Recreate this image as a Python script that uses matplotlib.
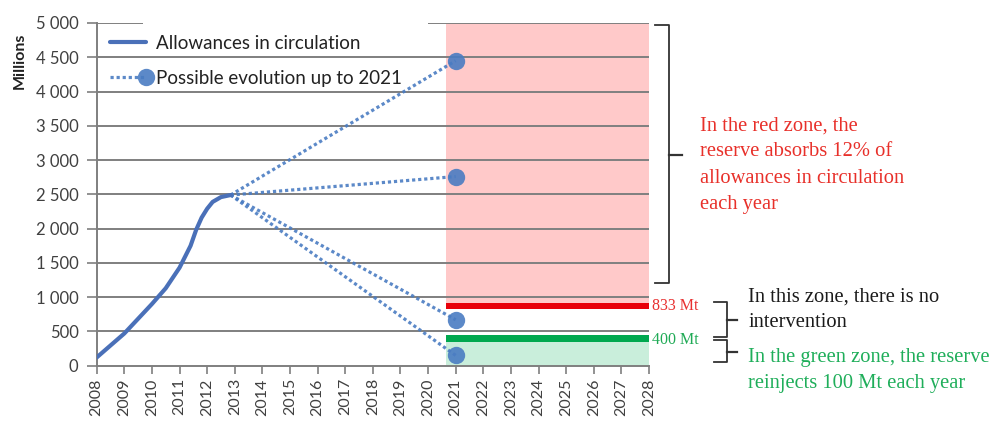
import matplotlib
matplotlib.use('Agg')
import matplotlib.pyplot as plt
from matplotlib.patches import Rectangle
from matplotlib.lines import Line2D
from matplotlib.legend_handler import HandlerLine2D

plt.rcParams['font.family'] = ['Lato', 'DejaVu Sans']

# allowances in circulation (Mt)
curve_years = [2008, 2009, 2010, 2010.5, 2011, 2011.4, 2011.6, 2011.8, 2012, 2012.2, 2012.5, 2012.85]
curve_values = [120, 470, 900, 1130, 1430, 1750, 1980, 2160, 2290, 2390, 2460, 2490]

# possible paths up to 2021
branch_start = (2012.85, 2490)
branch_year = 2021
branch_ends = [4450, 2760, 670, 150]

# reserve thresholds
upper_level = 833
lower_level = 400
zone_start = 2020.65
zone_end = 2028

years = list(range(2008, 2029))
y_ticks = list(range(0, 5001, 500))
y_labels = ['{:,}'.format(v).replace(',', ' ') for v in y_ticks]

blue = '#4a70b8'
dot_blue = '#4a7cc2'
red_fill = '#ffc9c9'
green_fill = '#c9eedb'
red_bar = '#e8000a'
green_bar = '#00a84f'
grid_col = '#7f7f7f'


class EndMarkerHandler(HandlerLine2D):
    # dotted line with the marker sitting on its right end
    def create_artists(self, legend, orig_handle, xdescent, ydescent, width, height, fontsize, trans):
        artists = super().create_artists(legend, orig_handle, xdescent, ydescent,
                                         width, height, fontsize, trans)
        artists[0].set_markevery([2])
        return artists


fig = plt.figure(figsize=(10.07, 4.22), dpi=100, facecolor='white')
ax = fig.add_axes([0.096, 0.1334, 0.5485, 0.8121])

# zones
ax.fill_between([zone_start, zone_end], upper_level, 5000, color=red_fill, lw=0, zorder=0)
ax.fill_between([zone_start, zone_end], 0, lower_level, color=green_fill, lw=0, zorder=0)

# grid
for v in y_ticks[1:]:
    ax.axhline(v, color=grid_col, lw=1.4, zorder=1)
ax.add_patch(Rectangle((0.084, 0.985), 0.516, 0.03, transform=ax.transAxes,
                       color='white', lw=0, clip_on=False, zorder=2))

# threshold bars
ax.fill_between([zone_start, zone_end], upper_level, upper_level + 85, color=red_bar, lw=0, zorder=3)
ax.fill_between([zone_start, zone_end], lower_level - 55, lower_level + 45, color=green_bar, lw=0, zorder=3)

# possible evolutions
branch_lines = []
for end in branch_ends:
    ln, = ax.plot([branch_start[0], branch_year], [branch_start[1], end], color=dot_blue,
                  lw=2.3, ls=(0, (1, 0.9)), marker='o', markevery=[1], ms=12.5,
                  mfc=dot_blue, mec='none', alpha=0.9, zorder=4)
    branch_lines.append(ln)

# historical curve
main_line, = ax.plot(curve_years, curve_values, color=blue, lw=3, solid_capstyle='round', zorder=5)

ax.set_xlim(2008, 2028)
ax.set_ylim(0, 5000)
ax.set_xticks(years)
ax.set_xticklabels([str(y) for y in years], rotation=90, fontsize=11.5, color='#404040')
ax.set_yticks(y_ticks)
ax.set_yticklabels(y_labels, fontsize=12, color='#404040')
ax.tick_params(axis='x', length=6, color=grid_col, width=1.2, pad=3)
ax.tick_params(axis='y', length=7, color=grid_col, width=1.2, pad=6)
for side in ['top', 'right']:
    ax.spines[side].set_visible(False)
for side in ['left', 'bottom']:
    ax.spines[side].set_color(grid_col)
    ax.spines[side].set_linewidth(1.4)

ax.set_ylabel('Millions', fontsize=11.5, fontweight='bold', color='#222222')
ax.yaxis.set_label_coords(-0.127, 0.89)

leg = ax.legend([main_line, branch_lines[0]],
                ['Allowances in circulation', 'Possible evolution up to 2021'],
                handler_map={branch_lines[0]: EndMarkerHandler()},
                loc='upper left', bbox_to_anchor=(0.024, 0.965),
                frameon=False, fontsize=13.5, handlelength=1.9, handletextpad=0.55,
                labelspacing=0.95, borderaxespad=0, borderpad=0)
for t in leg.get_texts():
    t.set_color('#222222')

# side notes
serif = 'Liberation Serif'
ax.text(2028.1, upper_level + 40, '833 Mt', color='#e83030', fontsize=11.5, family=serif,
        va='center', ha='left', clip_on=False)
ax.text(2028.1, lower_level - 20, '400 Mt', color='#1faa55', fontsize=11.5, family=serif,
        va='center', ha='left', clip_on=False)

note_kw = dict(fontsize=14.8, family=serif, va='top', ha='left', linespacing=1.52)
fig.text(0.695, 0.725, 'In the red zone, the\nreserve absorbs 12% of\nallowances in circulation\neach year',
         color='#e8302a', **note_kw)
fig.text(0.743, 0.3195, 'In this zone, there is no\nintervention', color='#1a1a1a', **note_kw)
fig.text(0.743, 0.175, 'In the green zone, the reserve\nreinjects 100 Mt each year',
         color='#1fae5a', **note_kw)


def brace(x0, x1, x2, top, mid, bottom):
    # square bracket with a short tick pointing to the note, in pixel units
    W, H = 1007.0, 422.0
    pts_x = [x0, x1, x1, x0]
    pts_y = [top, top, bottom, bottom]
    fig.add_artist(Line2D([p / W for p in pts_x], [1 - p / H for p in pts_y],
                          transform=fig.transFigure, color='#333333', lw=1.3))
    fig.add_artist(Line2D([x1 / W, x2 / W], [1 - mid / H, 1 - mid / H],
                          transform=fig.transFigure, color='#333333', lw=1.6))


brace(655, 669, 682, 25, 155, 283)
brace(714, 727, 737, 302, 320, 337)
brace(714, 727, 737, 340, 352, 362)

fig.savefig('out.png', dpi=100)
